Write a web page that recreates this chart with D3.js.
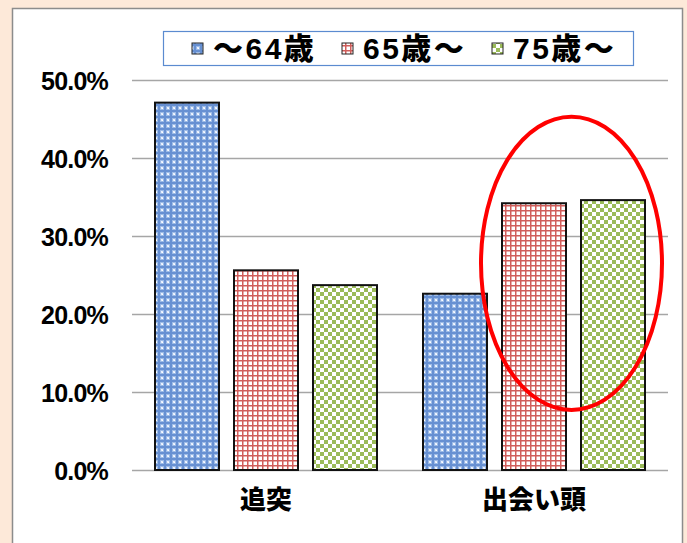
<!DOCTYPE html>
<html>
<head>
<meta charset="utf-8">
<script src="https://cdn.jsdelivr.net/npm/d3@7"></script>
<style>
  body { margin: 0; background: #fde9d9; }
  svg { display: block; }
  text { font-family: "Liberation Sans", "Noto Sans CJK JP", sans-serif; font-weight: 700; fill: #000; }
</style>
</head>
<body>
<div class="chart"></div>
<script>
const width = 687;
const height = 543;

// data
var categories = ["追突", "出会い頭"];
var seriesNames = ["～64歳", "65歳～", "75歳～"];
var under64 = [47.1, 22.6];
var over65 = [25.6, 34.2];
var over75 = [23.7, 34.6];
var yTicks = [0, 10, 20, 30, 40, 50];
// highlight ellipse around the older groups at 出会い頭 (value range it spans)
var highlightRange = [7.7, 45.3];

var seriesValues = [under64, over65, over75];
var patternIds = ["patBlue", "patRed", "patGreen"];

var svg = d3.select(".chart").append("svg")
  .attr("width", width)
  .attr("height", height);

// patterns
var defs = svg.append("defs");
var pb = defs.append("pattern").attr("id", "patBlue").attr("patternUnits", "userSpaceOnUse")
  .attr("width", 6).attr("height", 6);
pb.append("rect").attr("width", 6).attr("height", 6).attr("fill", "#9dbbe6");
pb.append("rect").attr("x", 2).attr("y", 0).attr("width", 2).attr("height", 6).attr("fill", "#6790d2");
pb.append("rect").attr("x", 0).attr("y", 2).attr("width", 6).attr("height", 2).attr("fill", "#6790d2");
pb.append("rect").attr("x", 0).attr("y", 0).attr("width", 1).attr("height", 1).attr("fill", "#ffffff");
pb.append("rect").attr("x", 5).attr("y", 5).attr("width", 1).attr("height", 1).attr("fill", "#eef3ff");
pb.append("rect").attr("x", 5).attr("y", 0).attr("width", 1).attr("height", 1).attr("fill", "#e2ebfb");
pb.append("rect").attr("x", 0).attr("y", 5).attr("width", 1).attr("height", 1).attr("fill", "#e2ebfb");

var pr = defs.append("pattern").attr("id", "patRed").attr("patternUnits", "userSpaceOnUse")
  .attr("width", 5).attr("height", 5);
pr.append("rect").attr("width", 5).attr("height", 5).attr("fill", "#ffffff");
pr.append("rect").attr("x", 0).attr("y", 0).attr("width", 1.5).attr("height", 5).attr("fill", "#d05e5b");
pr.append("rect").attr("x", 0).attr("y", 0).attr("width", 5).attr("height", 1.5).attr("fill", "#d05e5b");

var pg = defs.append("pattern").attr("id", "patGreen").attr("patternUnits", "userSpaceOnUse")
  .attr("width", 8).attr("height", 8);
pg.append("rect").attr("width", 8).attr("height", 8).attr("fill", "#ffffff");
pg.append("rect").attr("x", 0).attr("y", 0).attr("width", 4).attr("height", 4).attr("fill", "#9bbb59");
pg.append("rect").attr("x", 4).attr("y", 4).attr("width", 4).attr("height", 4).attr("fill", "#9bbb59");

// white panel
svg.append("rect")
  .attr("x", 12.5).attr("y", 8.5)
  .attr("width", 670).attr("height", 545)
  .attr("fill", "#fff")
  .attr("stroke", "#8c8c8c")
  .attr("stroke-width", 1.5);

var plotLeft = 132, plotRight = 668, plotTop = 80, plotBottom = 470;

var xScale = d3.scaleBand()
  .domain(categories)
  .range([plotLeft, plotRight]);
var xInner = d3.scaleBand()
  .domain(d3.range(seriesNames.length))
  .range([23, xScale.bandwidth() - 23])
  .paddingInner(0.19)
  .paddingOuter(0);
var yScale = d3.scaleLinear()
  .domain([0, 50])
  .range([plotBottom, plotTop]);

// gridlines + y labels
var yAxis = d3.axisLeft(yScale)
  .tickValues(yTicks)
  .tickSize(-(plotRight - plotLeft))
  .tickPadding(24)
  .tickFormat(function (d) { return d.toFixed(1) + "%"; });
var gy = svg.append("g")
  .attr("transform", "translate(" + plotLeft + ",0)")
  .call(yAxis);
gy.select(".domain").remove();
gy.selectAll(".tick line").attr("stroke", "#a6a6a6").attr("stroke-width", 1.5);
gy.selectAll(".tick text")
  .attr("font-size", 25)
  .attr("fill", "#000")
  .attr("dy", "0.36em")
  .attr("letter-spacing", -0.8)
  .style("font-family", '"Liberation Sans", sans-serif')
  .style("font-weight", 700);

// bars
var groups = svg.append("g").selectAll("g")
  .data(categories)
  .enter()
  .append("g")
  .attr("transform", function (d) { return "translate(" + xScale(d) + ",0)"; });

groups.selectAll("rect")
  .data(function (d, i) {
    return seriesValues.map(function (vals, s) { return { s: s, v: vals[i] }; });
  })
  .enter()
  .append("rect")
  .attr("x", function (d) { return xInner(d.s); })
  .attr("y", function (d) { return yScale(d.v); })
  .attr("width", xInner.bandwidth())
  .attr("height", function (d) { return yScale(0) - yScale(d.v); })
  .attr("fill", function (d) { return "url(#" + patternIds[d.s] + ")"; })
  .attr("stroke", "#111")
  .attr("stroke-width", 2);

// category labels
var xAxis = d3.axisBottom(xScale).tickSize(0).tickPadding(23);
var gx = svg.append("g")
  .attr("transform", "translate(0," + plotBottom + ")")
  .call(xAxis);
gx.select(".domain").remove();
gx.selectAll(".tick text")
  .attr("font-size", 26)
  .attr("fill", "#000")
  .attr("dy", "0.62em")
  .style("font-family", '"Noto Sans CJK JP", sans-serif')
  .style("font-weight", 900);

// legend
var legend = svg.append("g");
legend.append("rect")
  .attr("x", 163.5).attr("y", 31.5)
  .attr("width", 470).attr("height", 34)
  .attr("fill", "#fff")
  .attr("stroke", "#5b8bd0")
  .attr("stroke-width", 1.2);
var legendX = [192, 342, 492];
seriesNames.forEach(function (name, i) {
  legend.append("rect")
    .attr("x", legendX[i]).attr("y", 43)
    .attr("width", 11).attr("height", 11)
    .attr("fill", "url(#" + patternIds[i] + ")")
    .attr("stroke", "#222")
    .attr("stroke-width", 1);
  legend.append("text")
    .attr("x", legendX[i] + 21)
    .attr("y", 59)
    .attr("font-size", 30)
    .attr("letter-spacing", 2.5)
    .style("font-weight", 900)
    .text(name);
});

// red highlight ellipse around 65歳～ / 75歳～ at 出会い頭
var cat2 = categories[1];
var eLeft = xScale(cat2) + xInner(1) - 21;
var eRight = xScale(cat2) + xInner(2) + xInner.bandwidth() + 17;
svg.append("ellipse")
  .attr("cx", (eLeft + eRight) / 2)
  .attr("cy", (yScale(highlightRange[0]) + yScale(highlightRange[1])) / 2)
  .attr("rx", (eRight - eLeft) / 2)
  .attr("ry", (yScale(highlightRange[0]) - yScale(highlightRange[1])) / 2)
  .attr("fill", "none")
  .attr("stroke", "#ff0000")
  .attr("stroke-width", 4);
</script>
</body>
</html>
